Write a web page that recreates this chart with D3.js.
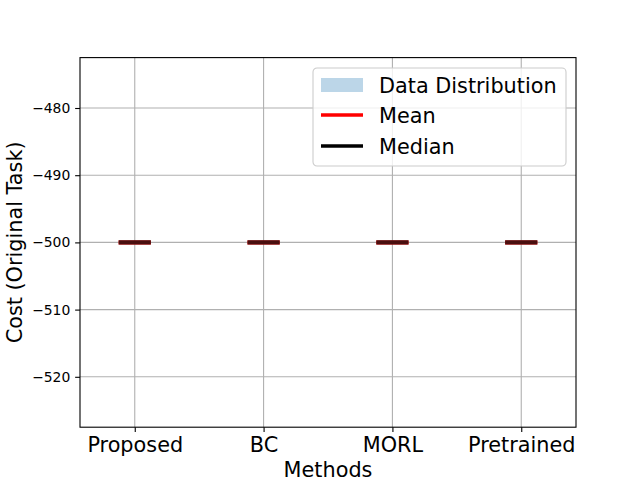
<!DOCTYPE html>
<html><head><meta charset="utf-8">
<script src="https://cdn.jsdelivr.net/npm/d3@7"></script>
<style>body{margin:0;background:#fff}svg{display:block;font-family:"DejaVu Sans",sans-serif}</style>
</head><body>
<script>
const methods = ["Proposed", "BC", "MORL", "Pretrained"];
const meanValues = [-500, -500, -500, -500];
const medianValues = [-500, -500, -500, -500];
const yTicks = [-520, -510, -500, -490, -480];
const legendLabels = ["Data Distribution", "Mean", "Median"];

const W = 640, H = 480;
const m = {left: 80, right: 576, top: 57.6, bottom: 427.2};
const svg = d3.select("body").append("svg").attr("width", W).attr("height", H);

const x = d3.scaleLinear().domain([0.575, 4.425]).range([m.left, m.right]);
const y = d3.scaleLinear().domain([-527.5, -472.5]).range([m.bottom, m.top]);
const pos = methods.map((d, i) => i + 1);
const fmt = d => (d < 0 ? "\u2212" : "") + Math.abs(d);

// grid
const g = svg.append("g");
g.selectAll(".gx").data(pos).join("line")
  .attr("x1", d => x(d)).attr("x2", d => x(d)).attr("y1", m.top).attr("y2", m.bottom)
  .attr("stroke", "#b0b0b0").attr("stroke-width", 1.1);
g.selectAll(".gy").data(yTicks).join("line")
  .attr("y1", d => y(d)).attr("y2", d => y(d)).attr("x1", m.left).attr("x2", m.right)
  .attr("stroke", "#b0b0b0").attr("stroke-width", 1.1);

// mean/median lines
const half = 0.125;
svg.append("g").selectAll("line").data(meanValues).join("line")
  .attr("x1", (d, i) => x(pos[i] - half)).attr("x2", (d, i) => x(pos[i] + half))
  .attr("y1", d => y(d)).attr("y2", d => y(d))
  .attr("stroke", "red").attr("stroke-width", 4);
svg.append("g").selectAll("line").data(medianValues).join("line")
  .attr("x1", (d, i) => x(pos[i] - half)).attr("x2", (d, i) => x(pos[i] + half))
  .attr("y1", d => y(d)).attr("y2", d => y(d))
  .attr("stroke", "#4a0f0f").attr("stroke-width", 4.2);

// axes
const tk = 4.86;
const xAxis = d3.axisBottom(x).tickValues(pos).tickFormat((d, i) => methods[i]).tickSize(tk).tickPadding(tk);
const yAxis = d3.axisLeft(y).tickValues(yTicks).tickFormat(fmt).tickSize(tk).tickPadding(tk);
const gx = svg.append("g").attr("transform", `translate(0,${m.bottom})`).call(xAxis);
const gy = svg.append("g").attr("transform", `translate(${m.left},0)`).call(yAxis);
[gx, gy].forEach(a => {
  a.select(".domain").remove();
  a.selectAll(".tick line").attr("stroke", "#000").attr("stroke-width", 1.1);
  a.selectAll("text").attr("fill", "#000").attr("font-family", "DejaVu Sans");
});
gx.selectAll("text").attr("font-size", "20.8px");
gy.selectAll("text").attr("font-size", "13.9px");

// frame
svg.append("rect").attr("x", m.left).attr("y", m.top).attr("width", m.right - m.left).attr("height", m.bottom - m.top)
  .attr("fill", "none").attr("stroke", "#000").attr("stroke-width", 1.1);

// labels
svg.append("text").attr("x", (m.left + m.right) / 2).attr("y", 476.5).attr("text-anchor", "middle")
  .attr("font-size", "20.8px").text("Methods");
svg.append("text").attr("transform", `translate(21.5,${(m.top + m.bottom) / 2}) rotate(-90)`).attr("text-anchor", "middle")
  .attr("font-size", "20.8px").text("Cost (Original Task)");

// legend
const lg = svg.append("g").attr("transform", "translate(313,68)");
lg.append("rect").attr("width", 253).attr("height", 98).attr("rx", 4)
  .attr("fill", "#fff").attr("fill-opacity", 0.8).attr("stroke", "#cccccc").attr("stroke-width", 1.1);
const rowsY = [17, 47, 78];
lg.append("rect").attr("x", 8).attr("y", rowsY[0] - 7).attr("width", 42).attr("height", 14).attr("fill", "#bcd6e8");
lg.append("line").attr("x1", 8).attr("x2", 50).attr("y1", rowsY[1]).attr("y2", rowsY[1]).attr("stroke", "red").attr("stroke-width", 3.5);
lg.append("line").attr("x1", 8).attr("x2", 50).attr("y1", rowsY[2]).attr("y2", rowsY[2]).attr("stroke", "#000").attr("stroke-width", 3.5);
lg.selectAll(".lt").data(legendLabels).join("text")
  .attr("x", 66).attr("y", (d, i) => rowsY[i] + 7.5).attr("font-size", "20.8px").text(d => d);
</script>
</body></html>
